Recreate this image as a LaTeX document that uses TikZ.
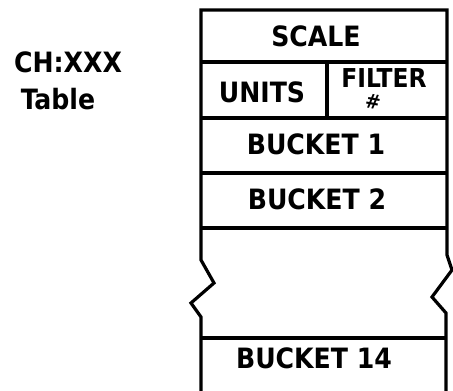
\documentclass[tikz,border=0pt]{standalone}
\usepackage{fontspec}
\setmainfont{DejaVu Sans Condensed}
\usetikzlibrary{positioning}

\begin{document}
\begin{tikzpicture}[
  x=1pt, y=-1pt,
  every node/.append style={align=center, inner sep=0pt},
  lbl/.style={font=\fontsize{28}{30}\selectfont\bfseries},
  rule/.style={line width=3.2pt, line join=miter},
]
\useasboundingbox (0,0) rectangle (453,391);
% table outline with break marks
\draw[rule] (201,391) -- (201,317) -- (191,303) -- (214,283) -- (201,260)
  -- (201,10) -- (447,10) -- (447,255) -- (452,270) -- (432,297) -- (446,313)
  -- (446,391);
% row lines
\foreach \y in {62,118,173,228,338}
  \draw[rule] (201,\y) -- (447,\y);
\draw[rule] (327,62) -- (327,118);
% texts
\node[lbl] (name) at (68,62) {CH:XXX};
\node[lbl] (kind) at (58,99) {Table};
\node[lbl] (scale) at (316,36) {SCALE};
\node[lbl] (units) at (262,92) {UNITS};
\node[lbl, font=\fontsize{26}{28}\selectfont\bfseries] (filter) at (384,78) {FILTER};
\node[font=\fontsize{20}{22}\selectfont\bfseries, rotate=-10] (hash) at (373,102) {\#};
\node[lbl] (b1) at (316,144) {BUCKET 1};
\node[lbl] (b2) at (317,199) {BUCKET 2};
\node[lbl] (b14) at (314,358) {BUCKET 14};
\end{tikzpicture}
\end{document}
